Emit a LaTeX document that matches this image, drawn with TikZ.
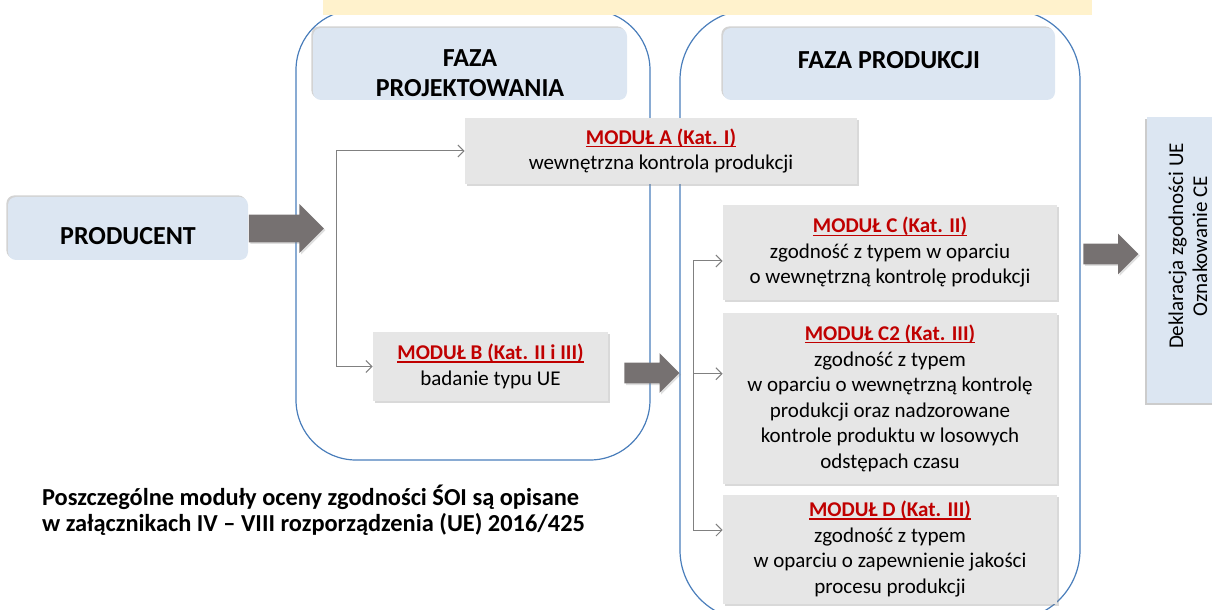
\documentclass[tikz,border=0pt]{standalone}
\usepackage{fontspec}
\setmainfont{Carlito}
\usetikzlibrary{shadows,shapes.arrows,arrows.meta,positioning}
\definecolor{hdrblue}{HTML}{DCE6F2}
\definecolor{modgray}{HTML}{E6E6E6}
\definecolor{modred}{HTML}{C00000}
\definecolor{frameblue}{HTML}{4A7EBB}
\definecolor{bannerylw}{HTML}{FFF2CC}
\definecolor{blockgray}{HTML}{767171}
\newcommand{\modtitle}[1]{\textcolor{modred}{\bfseries\setbox0\hbox{#1}\rlap{\rule[-1.4pt]{\wd0}{0.6pt}}\box0}}

\begin{document}
\begin{tikzpicture}[x=0.5pt,y=-0.5pt,
    frame/.style={draw=frameblue,line width=0.6pt},
    hdrbox/.style={fill=hdrblue,rounded corners=4pt,minimum width=#1,minimum height=36pt,
      drop shadow={shadow xshift=-0.8pt,shadow yshift=0.8pt,opacity=0.35}},
    hdrlabel/.style={font=\fontsize{13}{15}\selectfont\bfseries,align=center},
    modbox/.style={fill=modgray,minimum width=#1,align=center,inner sep=2pt,
      font=\fontsize{10.5}{12.75}\selectfont,
      drop shadow={shadow xshift=1.2pt,shadow yshift=-1.2pt,opacity=0.3}},
    link/.style={draw=gray,line width=0.5pt,-{Straight Barb[length=3pt,width=6pt]}},
    blockarrow/.style={single arrow,fill=blockgray,inner xsep=0pt,inner ysep=#1,anchor=tail,
      drop shadow={shadow xshift=0.8pt,shadow yshift=-0.8pt,opacity=0.25}}]
  \clip (0,0) rectangle (1212,610);

  \draw[frame,rounded corners=30pt] (296,10) rectangle (650,460);
  \draw[frame,rounded corners=35pt] (680,10) rectangle (1080,620);
  \fill[bannerylw] (323,-5) rectangle (1092,15);

  \node[hdrbox=157pt,label={[hdrlabel,yshift=-4.5pt]center:FAZA\\PROJEKTOWANIA}] (hdrDesign) at (470,64) {};
  \node[hdrbox=166pt,label={[hdrlabel,yshift=2pt]center:FAZA PRODUKCJI}] (hdrProd) at (889,64) {};
  \node[hdrbox=120pt,minimum height=31.5pt,label={[hdrlabel,yshift=-4pt]center:PRODUCENT}] (prod) at (128,228.5) {};
  \node[blockarrow=6.75pt,minimum height=37.5pt,single arrow head extend=5.25pt] (arrProd) at (prod.east) {};

  \node[modbox=196pt,minimum height=33pt] (modA) at (661,151)
    {\modtitle{MODUŁ A (Kat. I)}\\wewnętrzna kontrola produkcji};
  \node[modbox=117.5pt,minimum height=34.5pt] (modB) at (490.5,366.5)
    {\modtitle{MODUŁ B (Kat. II i III)}\\badanie typu UE};
  \node[blockarrow=5pt,minimum height=27.5pt,single arrow head extend=4.75pt] (arrB) at (624,373) {};

  \node[modbox=167pt,minimum height=47.5pt] (modC) at (890,252.5)
    {\modtitle{MODUŁ C (Kat. II)}\\zgodność z typem w oparciu\\o wewnętrzną kontrolę produkcji};
  \node[modbox=167pt,minimum height=85.5pt,below=6pt of modC] (modC2)
    {\modtitle{MODUŁ C2 (Kat. III)}\\zgodność z typem\\w oparciu o wewnętrzną kontrolę\\produkcji oraz nadzorowane\\kontrole produktu w losowych\\odstępach czasu};
  \node[modbox=167pt,minimum height=54.5pt,below=5pt of modC2] (modD)
    {\modtitle{MODUŁ D (Kat. III)}\\zgodność z typem\\w oparciu o zapewnienie jakości\\procesu produkcji};

  \coordinate (splitL) at (336,260);
  \draw[link] (splitL) |- (modA.west);
  \draw[link] (splitL) |- (modB.west);

  \coordinate (splitR) at (693,373);
  \foreach \mod/\dy in {modC/-4.25pt,modC2/12.25pt,modD/9.5pt} {
    \draw[link] (splitR) |- ([yshift=\dy]\mod.west);
  }

  \node[blockarrow=5pt,minimum height=27.5pt,single arrow head extend=5pt] (arrDecl) at (1083,254) {};
  \node[fill=hdrblue,minimum width=39pt,minimum height=143pt,
    drop shadow={shadow xshift=-1pt,shadow yshift=-1pt,opacity=0.4},
    label={[xshift=1pt,yshift=7pt,rotate=90,align=center,font=\fontsize{10.5}{12}\selectfont]center:Deklaracja zgodności UE\\Oznakowanie CE}] (decl) at (1186,260) {};

  \node[anchor=west,align=left,font=\fontsize{12.2}{13}\selectfont\bfseries] (note) at (35,510)
    {Poszczególne moduły oceny zgodności ŚOI są opisane\\w załącznikach IV – VIII rozporządzenia (UE) 2016/425};
\end{tikzpicture}
\end{document}
